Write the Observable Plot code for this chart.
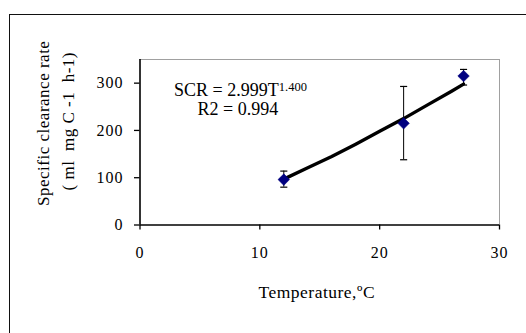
<!DOCTYPE html>
<html>
<head>
<meta charset="utf-8">
<script src="https://cdn.jsdelivr.net/npm/d3@7"></script>
<script src="https://cdn.jsdelivr.net/npm/@observablehq/plot@0.6"></script>
<style>
  html, body { margin: 0; padding: 0; background: #fff; }
  #wrap { position: relative; width: 526px; height: 333px; overflow: hidden; }
  #outer { position: absolute; left: 9px; top: 14px; width: 540px; height: 340px;
           border-left: 1.3px solid #111; border-top: 1.3px solid #111; }
  #chart { position: absolute; left: 0; top: 0; }
  #chart svg text { font-family: 'Liberation Serif', 'Times New Roman', serif; }
  #chart svg g[aria-label="y-axis tick label"] text,
  #chart svg g[aria-label="x-axis tick label"] text { letter-spacing: 1px; }
  #chart svg .title text { letter-spacing: 0.5px; }
</style>
</head>
<body>
<div id="wrap"><div id="outer"></div><div id="chart"></div></div>
<script>
// Observed points (temperature °C, specific clearance rate)
const temperature = [12, 22, 27];
const scr = [96, 215, 315];
const errLow = [80, 138, 296];
const errHigh = [114, 293, 329];

// Fitted power trend line
const trendT = [12, 14, 16, 18, 20, 22, 24, 26, 27];
const trendSCR = [97, 121, 145, 171, 198, 225, 254, 283, 298];

const xTicks = [0, 10, 20, 30];
const yTicks = [0, 100, 200, 300];

const points = temperature.map((t, i) => ({t, v: scr[i], lo: errLow[i], hi: errHigh[i]}));
const trend = trendT.map((t, i) => ({t, v: trendSCR[i]}));

const capSymbol = {
  draw(context, size) {
    const w = Math.sqrt(size) / 2;
    context.moveTo(-w, 0);
    context.lineTo(w, 0);
  }
};

const serif = "'Liberation Serif', 'Times New Roman', serif";

const chart = Plot.plot({
  width: 526,
  height: 333,
  marginLeft: 139.5,
  marginRight: 27,
  marginTop: 59,
  marginBottom: 108.5,
  style: "font-family: 'Liberation Serif', 'Times New Roman', serif; font-size: 16px; color: #000; background: transparent;",
  x: {domain: [0, 30]},
  y: {domain: [0, 350]},
  marks: [
    Plot.ruleY([350], {stroke: "#a0a0a0", strokeWidth: 1}),
    Plot.ruleX([30], {stroke: "#a0a0a0", strokeWidth: 1}),
    Plot.axisY({ticks: yTicks, tickSize: 5.5, tickPadding: 11, label: null, stroke: "#000", strokeWidth: 1.3, fontSize: 16, fontFamily: serif}),
    Plot.axisX({ticks: xTicks, tickSize: 5, tickPadding: 17, label: null, stroke: "#000", strokeWidth: 1.3, fontSize: 16, fontFamily: serif}),
    Plot.ruleX([0], {stroke: "#000", strokeWidth: 1.6}),
    Plot.ruleY([0], {stroke: "#000", strokeWidth: 1.6}),
    Plot.line(trend, {x: "t", y: "v", stroke: "#000", strokeWidth: 3.4}),
    Plot.ruleX(points, {x: "t", y1: "lo", y2: "hi", stroke: "#000", strokeWidth: 1}),
    Plot.dot(points, {x: "t", y: "lo", symbol: capSymbol, r: 4, stroke: "#000", strokeWidth: 1.2}),
    Plot.dot(points, {x: "t", y: "hi", symbol: capSymbol, r: 4, stroke: "#000", strokeWidth: 1.2}),
    Plot.dot(points, {x: "t", y: "v", symbol: "diamond2", r: 5.2, fill: "#000080", stroke: "#000080", strokeWidth: 0.5}),
    // equation annotation
    Plot.text(["SCR = 2.999T"], {x: 11.58, y: 285, textAnchor: "end", fontSize: 18, fontFamily: serif, fill: "#000"}),
    Plot.text(["1.400"], {x: 11.58, y: 292, textAnchor: "start", fontSize: 12.5, fontFamily: "'Liberation Sans', Arial, sans-serif", fill: "#000"}),
    Plot.text(["R2 = 0.994"], {x: 8.17, y: 244, textAnchor: "middle", fontSize: 18, fontFamily: serif, fill: "#000"}),
    // axis titles
    Plot.text(["Temperature,ºC"], {frameAnchor: "bottom", textAnchor: "middle", dx: -3, dy: 73, fontSize: 17.5, fontFamily: serif, fill: "#000", className: "title"}),
    Plot.text(["Specific clearance rate"], {frameAnchor: "left", textAnchor: "middle", dx: -96, dy: -19, rotate: -90, fontSize: 17, fontFamily: serif, fill: "#000", className: "title"}),
    Plot.text(["( ml  mg C -1  h-1)"], {frameAnchor: "left", textAnchor: "middle", dx: -71, dy: -21, rotate: -90, fontSize: 17, fontFamily: serif, fill: "#000", className: "title"})
  ]
});
document.getElementById("chart").appendChild(chart);
</script>
</body>
</html>
